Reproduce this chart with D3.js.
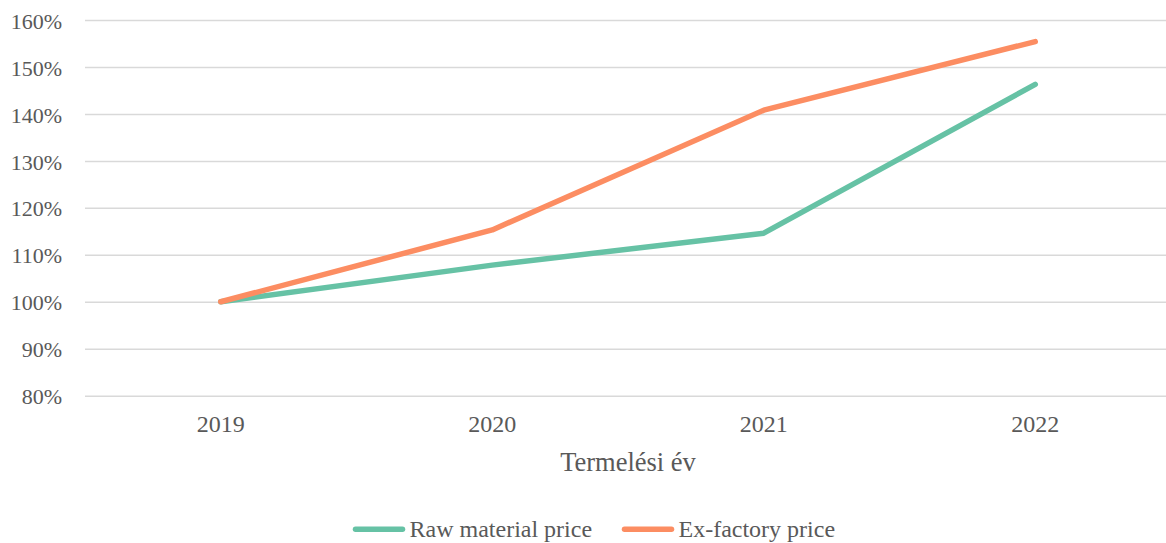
<!DOCTYPE html>
<meta charset="utf-8">
<style>
body{ margin:0; background:#fff; }
</style>
<body>
<script src="https://d3js.org/d3.v7.min.js"></script>
<script>
// data
var years = ["2019", "2020", "2021", "2022"];
var rawMaterial = [100, 107.8, 114.6, 146.3];
var exFactory = [100, 115.3, 140.8, 155.4];
var seriesNames = ["Raw material price", "Ex-factory price"];
var seriesColors = ["#66c2a5", "#fc8d62"];
var yTicks = [80, 90, 100, 110, 120, 130, 140, 150, 160];

var width = 1166, height = 543;
var serif = "Liberation Serif, DejaVu Serif, Tinos, serif";
var svg = d3.select("body").append("svg")
    .attr("width", width)
    .attr("height", height)
    .style("font-family", serif);

var x = d3.scaleBand().domain(years).range([85, 1171]).padding(0);
var y = d3.scaleLinear().domain([80, 160]).range([395.7, 20]);

// gridlines + y labels
var yAxis = d3.axisLeft(y).tickValues(yTicks)
    .tickSize(-(1171 - 85))
    .tickPadding(23)
    .tickFormat(function(d) { return d + "%"; });
var gy = svg.append("g").attr("transform", "translate(85,0)").call(yAxis);
gy.attr("font-family", null).attr("font-size", null);
gy.select(".domain").remove();
gy.selectAll(".tick line").attr("stroke", "#d9d9d9").attr("stroke-width", 1.5);
gy.selectAll(".tick text").style("font-size", "22px").attr("dy", "0.37em").attr("fill", "#595959");

// x labels
var xAxis = d3.axisBottom(x).tickSize(0);
var gx = svg.append("g").attr("transform", "translate(0,395.7)").call(xAxis);
gx.attr("font-family", null).attr("font-size", null);
gx.select(".domain").remove();
gx.selectAll(".tick text").style("font-size", "24px")
    .attr("y", 36.5).attr("dy", null).attr("fill", "#595959");

svg.append("text")
    .attr("x", (85 + 1171) / 2)
    .attr("y", 471)
    .attr("text-anchor", "middle")
    .attr("fill", "#595959")
    .style("font-size", "26.5px")
    .text("Termelési év");

var line = d3.line()
    .x(function(d, i) { return x(years[i]) + x.bandwidth() / 2; })
    .y(function(d) { return y(d); });

[rawMaterial, exFactory].forEach(function(s, i) {
  svg.append("path")
      .datum(s)
      .attr("fill", "none")
      .attr("stroke", seriesColors[i])
      .attr("stroke-width", 5.5)
      .attr("stroke-linecap", "round")
      .attr("stroke-linejoin", "round")
      .attr("d", line);
});

// legend
var legendX = [355.5, 624.5];
var legend = svg.selectAll(".legend")
    .data(seriesNames)
  .enter().append("g")
    .attr("class", "legend")
    .attr("transform", function(d, i) { return "translate(" + legendX[i] + ",529.3)"; });
legend.append("line")
    .attr("x1", 0).attr("x2", 47)
    .attr("stroke", function(d, i) { return seriesColors[i]; })
    .attr("stroke-width", 5.5)
    .attr("stroke-linecap", "round");
legend.append("text")
    .attr("x", 54)
    .attr("y", 7.4)
    .attr("fill", "#595959")
    .style("font-size", "24px")
    .text(function(d) { return d; });
</script>
</body>
